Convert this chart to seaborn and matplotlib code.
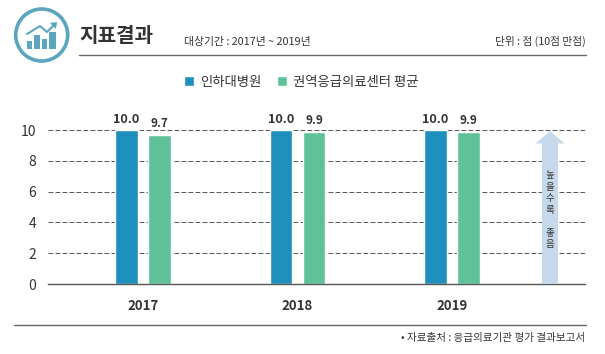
#!/usr/bin/env python3

import matplotlib.pyplot as plt
from matplotlib.patches import Circle, Polygon, Rectangle
import pandas as pd
import seaborn as sns

years = ["2017", "2018", "2019"]
hospital = [10.0, 10.0, 10.0]
center_avg = [9.7, 9.9, 9.9]
series_names = ["인하대병원", "권역응급의료센터 평균"]
y_ticks = [0, 2, 4, 6, 8, 10]

W, H = 605, 354
BLUE = "#1F8FBD"
GREEN = "#5FC197"
TEAL = "#5CA5BF"
GREY = "#555555"
TEXT = "#333333"

sns.set_style("white")
plt.rcParams['font.family'] = ['Noto Sans CJK KR', 'DejaVu Sans']

df = pd.DataFrame({
    "year": years * 2,
    "value": hospital + center_avg,
    "series": [series_names[0]] * 3 + [series_names[1]] * 3,
})

fig = plt.figure(figsize=(W / 100, H / 100), dpi=100)
ax = fig.add_axes([48 / W, (H - 284) / H, 537 / W, 154 / H])
ax.set_axisbelow(True)

sns.barplot(
    data=df,
    x="year",
    y="value",
    hue="series",
    palette=[BLUE, GREEN],
    width=0.427,
    gap=0.33,
    saturation=1,
    ax=ax,
)

ax.set_xlim(-0.615, 2.861)
ax.set_ylim(0, 10)
ax.set_xlabel("")
ax.set_ylabel("")
ax.set_yticks(y_ticks)
ax.grid(axis="y", color=GREY, linewidth=0.7, linestyle=(0, (5, 2.2)))
for side in ["top", "right", "left"]:
    ax.spines[side].set_visible(False)
ax.spines["bottom"].set_color(GREY)
ax.spines["bottom"].set_linewidth(1.0)
ax.tick_params(axis="y", length=0, pad=8.5, labelsize=10, labelcolor=TEXT)
ax.tick_params(axis="x", length=0, pad=11, labelsize=9.5, labelcolor=TEXT)
for label in ax.get_xticklabels():
    label.set_fontweight("bold")

ax.bar_label(ax.containers[0], fmt="%.1f", padding=3, fontsize=9.2,
             fontweight="bold", color=TEXT)
ax.bar_label(ax.containers[1], fmt="%.1f", padding=3.5, fontsize=8.5,
             fontweight="bold", color=TEXT)

sns.move_legend(ax, "center", bbox_to_anchor=(301 / W, (H - 82) / H),
                bbox_transform=fig.transFigure, ncol=2, title=None,
                frameon=False, fontsize=9.6, handlelength=0.75, handleheight=0.75,
                handletextpad=0.45, columnspacing=1.15, labelcolor=TEXT)

# everything outside the plot, in pixel coordinates
deco = fig.add_axes([0, 0, 1, 1], zorder=3)
deco.set_xlim(0, W)
deco.set_ylim(H, 0)
deco.axis("off")
deco.patch.set_alpha(0)

deco.plot([79, 586], [55, 55], color="#666666", lw=1)
deco.plot([14, 586], [325, 325], color="#666666", lw=1)

# header icon
deco.add_patch(Circle((41.7, 35), 26, fill=False, ec=TEAL, lw=2.6))
for x0, x1, top in [(27, 32, 41), (34, 40, 35), (42, 47, 39), (49, 56, 32)]:
    deco.add_patch(Rectangle((x0, top), x1 - x0, 49 - top, color=TEAL, lw=0))
deco.plot([27, 40, 47, 55], [34, 26, 32, 24], color=TEAL, lw=1.5)
deco.add_patch(Polygon([[50, 23], [57, 22], [56, 29]], color=TEAL, lw=0))

deco.text(79, 36, "지표결과", fontsize=14.5, fontweight="bold", color=TEXT,
          ha="left", va="center")
deco.text(184, 41.5, "대상기간 : 2017년 ~ 2019년", fontsize=7.8, color=TEXT,
          ha="left", va="center")
deco.text(586, 41.5, "단위 : 점 (10점 만점)", fontsize=7.7, color=TEXT,
          ha="right", va="center")
deco.text(585, 338.5, "• 자료출처 : 응급의료기관 평가 결과보고서", fontsize=7.6, color=TEXT,
          ha="right", va="center")

# higher is better arrow
deco.add_patch(Polygon(
    [[550, 131], [564.5, 143.5], [558, 143.5], [558, 284],
     [542, 284], [542, 143.5], [535.5, 143.5]],
    color="#C6D9EA", lw=0))
deco.text(550, 193, "높\n을\n수\n록", fontsize=6.8, color=TEXT, linespacing=1.4,
          ha="center", va="center")
deco.text(550, 239, "좋\n음", fontsize=6.8, color=TEXT, linespacing=1.4,
          ha="center", va="center")

fig.savefig("out.png", dpi=100)
plt.close()
